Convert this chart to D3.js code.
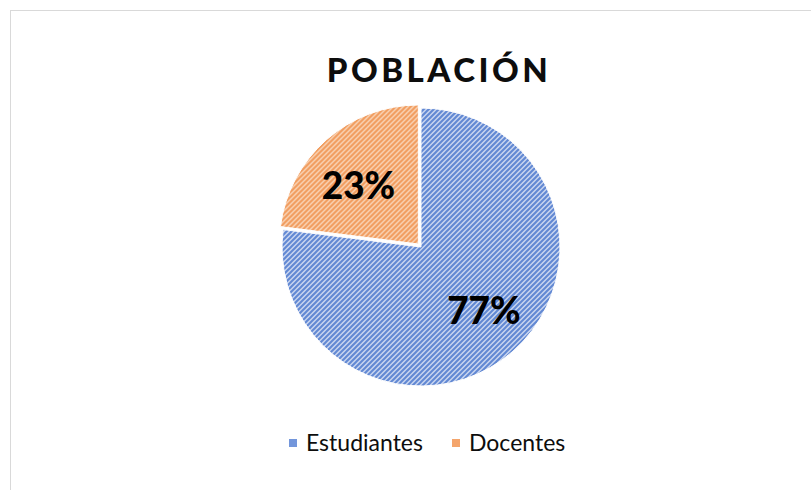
<!DOCTYPE html>
<html>
<head>
<meta charset="utf-8">
<script src="https://cdn.jsdelivr.net/npm/d3@7"></script>
<style>
  body { margin: 0; background: #fff; }
  svg { display: block; }
</style>
</head>
<body>
<svg id="chart" width="811" height="490"></svg>
<script>
const categories = ["Estudiantes", "Docentes"];
const values = [77, 23];
const labels = ["77%", "23%"];
const title = "POBLACIÓN";

const svg = d3.select("#chart");
const width = 811, height = 490;

// chart frame
svg.append("rect")
    .attr("x", 10.5).attr("y", 10.5)
    .attr("width", width).attr("height", height)
    .attr("fill", "#fff")
    .attr("stroke", "#d9d9d9")
    .attr("stroke-width", 1);

// hatch patterns
const defs = svg.append("defs");
const fills = [
    { id: "hatch-blue", bg: "#c8d5f0", fg: "#6188d3" },
    { id: "hatch-orange", bg: "#f9d5b8", fg: "#f19b5c" }
];
fills.forEach(f => {
    const p = defs.append("pattern")
        .attr("id", f.id)
        .attr("patternUnits", "userSpaceOnUse")
        .attr("width", 5).attr("height", 5);
    p.append("rect").attr("width", 5).attr("height", 5).attr("fill", f.bg);
    p.append("path")
        .attr("d", "M-1,1 l2,-2 M0,5 l5,-5 M4,6 l2,-2")
        .attr("stroke", f.fg)
        .attr("stroke-width", 2);
});

const color = d3.scaleOrdinal()
    .domain(categories)
    .range(fills.map(f => `url(#${f.id})`));
const swatch = d3.scaleOrdinal()
    .domain(categories)
    .range(["#7396db", "#f4a56c"]);

// title
svg.append("text")
    .attr("x", 439).attr("y", 82)
    .attr("text-anchor", "middle")
    .attr("font-family", "Lato, sans-serif")
    .attr("font-weight", 900)
    .attr("font-size", 33)
    .attr("letter-spacing", 3.5)
    .attr("fill", "#0d0d0d")
    .text(title);

const cx = 421, cy = 247, radius = 139;
const pie = d3.pie().sort(null).value(d => d.value);
const arc = d3.arc().innerRadius(0).outerRadius(radius);
const data = categories.map((c, i) => ({ name: c, value: values[i], label: labels[i] }));
const arcs = pie(data);

const explode = [0, 4];
const g = svg.append("g").attr("transform", `translate(${cx},${cy})`);

const slice = g.selectAll("g.slice")
    .data(arcs)
    .join("g")
    .attr("class", "slice")
    .attr("transform", (d, i) => {
        const a = (d.startAngle + d.endAngle) / 2;
        return `translate(${Math.sin(a) * explode[i]},${-Math.cos(a) * explode[i]})`;
    });

slice.append("path")
    .attr("d", arc)
    .attr("fill", d => color(d.data.name))
    .attr("stroke", "#fff")
    .attr("stroke-width", 1);

// labels sit a bit outward and nudged toward horizontal like Excel does
const labelArc = d3.arc().innerRadius(radius * 0.63).outerRadius(radius * 0.63);
const nudge = [[5, -2], [-2, 8]];
slice.append("text")
    .attr("transform", (d, i) => {
        const [x, y] = labelArc.centroid(d);
        return `translate(${x + nudge[i][0]},${y + nudge[i][1]})`;
    })
    .attr("dy", "0.35em")
    .attr("text-anchor", "middle")
    .attr("font-family", "Lato, sans-serif")
    .attr("font-weight", 900)
    .attr("font-size", 37)
    .attr("fill", "#000")
    .text(d => d.data.label);

// legend
const legend = svg.append("g")
    .attr("font-family", "Lato, sans-serif")
    .attr("font-size", 23)
    .attr("fill", "#0d0d0d");
const legendX = [289, 452];
categories.forEach((c, i) => {
    const item = legend.append("g").attr("transform", `translate(${legendX[i]},443)`);
    item.append("rect")
        .attr("x", 0).attr("y", -4)
        .attr("width", 8).attr("height", 8)
        .attr("fill", swatch(c));
    item.append("text")
        .attr("x", 17).attr("dy", "0.35em")
        .text(c);
});
</script>
</body>
</html>
